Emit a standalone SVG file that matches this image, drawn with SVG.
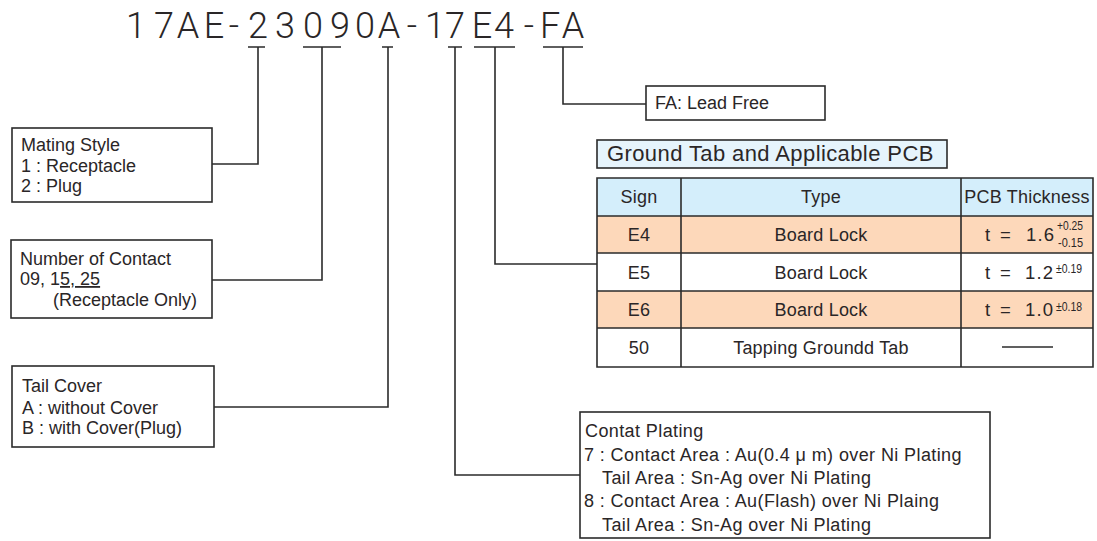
<svg xmlns="http://www.w3.org/2000/svg" width="1097" height="541" viewBox="0 0 1097 541">
<style>
text{font-family:"Liberation Sans",Arial,sans-serif;fill:#2a2627;}
.t{font-size:18px;}
.big{font-family:Roboto,"Liberation Sans",sans-serif;font-weight:300;font-size:36px;text-anchor:middle;}
.gt{font-size:22px;letter-spacing:0.4px;}
.c{font-size:18px;text-anchor:middle;letter-spacing:0.2px;}
.v{font-size:18.5px;}
.s{font-size:13px;}
.box{fill:#fff;stroke:#2b2b2b;stroke-width:1.6;}
.ln{fill:none;stroke:#2b2b2b;stroke-width:1.6;}
.cell{stroke:#2b2b2b;stroke-width:1.6;}
</style>
<rect width="1097" height="541" fill="#fff"/>
<g id="part-number">
<text class="big" x="136 164 188 214 234 258 285 313 340 365 389 412 435 455 482 504 529 550 573" y="38">17AE-23090A-17E4-FA</text>
</g>
<g id="connectors">
<path class="ln" d="M248 47H265M258 47V164H212"/>
<path class="ln" d="M303 47H341M322 47V280H212"/>
<path class="ln" d="M382 47H393M388 47V407H214"/>
<path class="ln" d="M448 47H462M455 47V475H580"/>
<path class="ln" d="M474 47H515M495 47V264H597"/>
<path class="ln" d="M543 47H583M563 47V104H646"/>
</g>
<g id="mating-style">
<rect class="box" x="12" y="128" width="200" height="74"/>
<text class="t" x="21" y="151">Mating Style</text>
<text class="t" x="21" y="172">1 : Receptacle</text>
<text class="t" x="21" y="192">2 : Plug</text>
</g>
<g id="number-of-contact">
<rect class="box" x="11" y="240" width="201" height="78"/>
<text class="t" x="20" y="265">Number of Contact</text>
<text class="t" x="20" y="285">09, 1<tspan text-decoration="underline">5, 25</tspan></text>
<text class="t" x="53" y="306">(Receptacle Only)</text>
</g>
<g id="tail-cover">
<rect class="box" x="12" y="366" width="202" height="81"/>
<text class="t" x="22" y="392">Tail Cover</text>
<text class="t" x="22" y="414">A : without Cover</text>
<text class="t" x="22" y="434">B : with Cover(Plug)</text>
</g>
<g id="lead-free">
<rect class="box" x="646" y="86" width="179" height="34"/>
<text class="t" x="655" y="109">FA: Lead Free</text>
</g>
<g id="contact-plating">
<rect class="box" x="580" y="412" width="410" height="126"/>
<text class="t" x="585" y="437" style="letter-spacing:0.4px">Contat Plating</text>
<text class="t" x="584" y="461" style="letter-spacing:0.4px">7 : Contact Area : Au(0.4 μ m) over Ni Plating</text>
<text class="t" x="602" y="484" style="letter-spacing:0.4px">Tail Area : Sn-Ag over Ni Plating</text>
<text class="t" x="584" y="507" style="letter-spacing:0.4px">8 : Contact Area : Au(Flash) over Ni Plaing</text>
<text class="t" x="602" y="531" style="letter-spacing:0.4px">Tail Area : Sn-Ag over Ni Plating</text>
</g>
<g id="ground-tab-title">
<rect x="597" y="140" width="350" height="28" fill="#e6f4fc" stroke="#2b2b2b" stroke-width="1.6"/>
<text class="gt" x="607" y="161">Ground Tab and Applicable PCB</text>
</g>
<g id="ground-tab-table">
<rect x="597" y="178" width="496" height="38" fill="#d4eefb"/>
<rect x="597" y="216" width="496" height="37" fill="#fdd8ba"/>
<rect x="597" y="253" width="496" height="38" fill="#fff"/>
<rect x="597" y="291" width="496" height="37" fill="#fdd8ba"/>
<rect x="597" y="328" width="496" height="39" fill="#fff"/>
<path class="cell" fill="none" d="M597 178H1093V367H597Z M597 216H1093 M597 253H1093 M597 291H1093 M597 328H1093 M681 178V367 M961 178V367"/>
<text class="c" x="639" y="203">Sign</text>
<text class="c" x="821" y="203">Type</text>
<text class="c" x="1027" y="203">PCB Thickness</text>
<text class="c" x="639" y="241">E4</text>
<text class="c" x="821" y="241">Board Lock</text>
<text class="v" x="985" y="241">t<tspan x="1000">=</tspan><tspan x="1026" style="letter-spacing:1.2px">1.6</tspan></text>
<text class="s" x="1057" y="230" textLength="26" lengthAdjust="spacingAndGlyphs">+0.25</text>
<text class="s" x="1058" y="247" textLength="25" lengthAdjust="spacingAndGlyphs">-0.15</text>
<text class="c" x="639" y="279">E5</text>
<text class="c" x="821" y="279">Board Lock</text>
<text class="v" x="985" y="279">t<tspan x="1000">=</tspan><tspan x="1025" style="letter-spacing:1.2px">1.2</tspan></text>
<text class="s" x="1056" y="273" textLength="26" lengthAdjust="spacingAndGlyphs">±0.19</text>
<text class="c" x="639" y="316">E6</text>
<text class="c" x="821" y="316">Board Lock</text>
<text class="v" x="985" y="316">t<tspan x="1000">=</tspan><tspan x="1025" style="letter-spacing:1.2px">1.0</tspan></text>
<text class="s" x="1056" y="311" textLength="26" lengthAdjust="spacingAndGlyphs">±0.18</text>
<text class="c" x="639" y="354">50</text>
<text class="c" x="821" y="354">Tapping Groundd Tab</text>
<path class="ln" d="M1002 347H1053" stroke-width="1.3"/>
</g>
</svg>
